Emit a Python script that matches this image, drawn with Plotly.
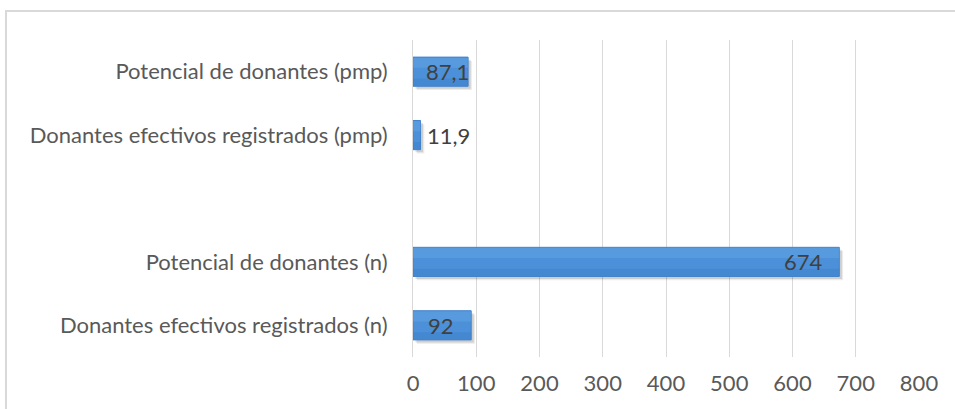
import plotly.graph_objects as go

categories = [
    "Potencial de donantes (pmp)",
    "Donantes efectivos registrados (pmp)",
    " ",
    "Potencial de donantes (n)",
    "Donantes efectivos registrados (n)",
]
values = [87.1, 11.9, None, 674, 92]
labels = ["87,1", "11,9", "", "674", "92"]
x_ticks = [0, 100, 200, 300, 400, 500, 600, 700, 800]

W, H = 955, 409
ML, MR, MT, MB = 413, 36, 40, 52

FONT = "Lato"
TXT = "#595959"
BW = 0.46

fig = go.Figure()
# soft drop shadow (two layers)
for dy, dx, a in [(0.06, 6, 0.08), (0.04, 4, 0.12)]:
    fig.add_trace(go.Bar(
        y=categories, x=values, base=dx,
        orientation="h", width=BW, offset=-BW / 2 + dy,
        marker=dict(color=f"rgba(0,0,0,{a})", line=dict(width=0)), hoverinfo="skip",
    ))
# main bar
fig.add_trace(go.Bar(
    y=categories, x=values, orientation="h", width=BW, offset=-BW / 2,
    marker=dict(color="#4b90d8", line=dict(color="#4282cc", width=1)), hoverinfo="skip",
))
# lighter top band and darker bottom band for a gradient feel
fig.add_trace(go.Bar(
    y=categories, x=values, orientation="h", width=BW * 0.35, offset=-BW / 2 + 0.008,
    marker=dict(color="rgba(120,180,235,0.30)", line=dict(width=0)), hoverinfo="skip",
))
fig.add_trace(go.Bar(
    y=categories, x=values, orientation="h", width=BW * 0.25, offset=BW / 2 - BW * 0.25 - 0.006,
    marker=dict(color="rgba(50,110,190,0.25)", line=dict(width=0)), hoverinfo="skip",
))

# data labels
anchors = ["right", "left", None, "right", "right"]
shifts = [3, 4, None, -14, -15]
for c, v, t, a, s in zip(categories, values, labels, anchors, shifts):
    if v is None:
        continue
    fig.add_annotation(x=v, y=c, text=t, showarrow=False, xanchor=a, xshift=s,
                       font=dict(family=FONT, size=22, color="#404040"))

pw = W - ML - MR
ph = H - MT - MB
fig.add_shape(type="rect", xref="paper", yref="paper",
              x0=(6 - ML) / pw, x1=(W + 10 - ML) / pw,
              y0=-(H + 10 - MT - ph) / ph, y1=1 + (MT - 11) / ph,
              line=dict(color="#d9d9d9", width=2), fillcolor="rgba(0,0,0,0)", layer="below")

fig.update_layout(
    width=W, height=H,
    margin=dict(l=ML, r=MR, t=MT, b=MB),
    paper_bgcolor="white", plot_bgcolor="white",
    showlegend=False, barmode="overlay",
    font=dict(family=FONT, size=22, color=TXT),
    xaxis=dict(range=[0, 800], tickvals=x_ticks, showgrid=True, gridcolor="#d9d9d9",
               gridwidth=1, zeroline=False, showline=False, ticks="",
               tickfont=dict(family=FONT, size=22, color=TXT), ticklabelstandoff=11,
               fixedrange=True),
    yaxis=dict(categoryorder="array", categoryarray=categories, autorange="reversed",
               showline=True, linecolor="#d9d9d9", linewidth=1, ticks="",
               showgrid=False, tickfont=dict(family=FONT, size=22, color=TXT),
               ticklabelstandoff=20, fixedrange=True),
)

fig.write_html("out.html")
